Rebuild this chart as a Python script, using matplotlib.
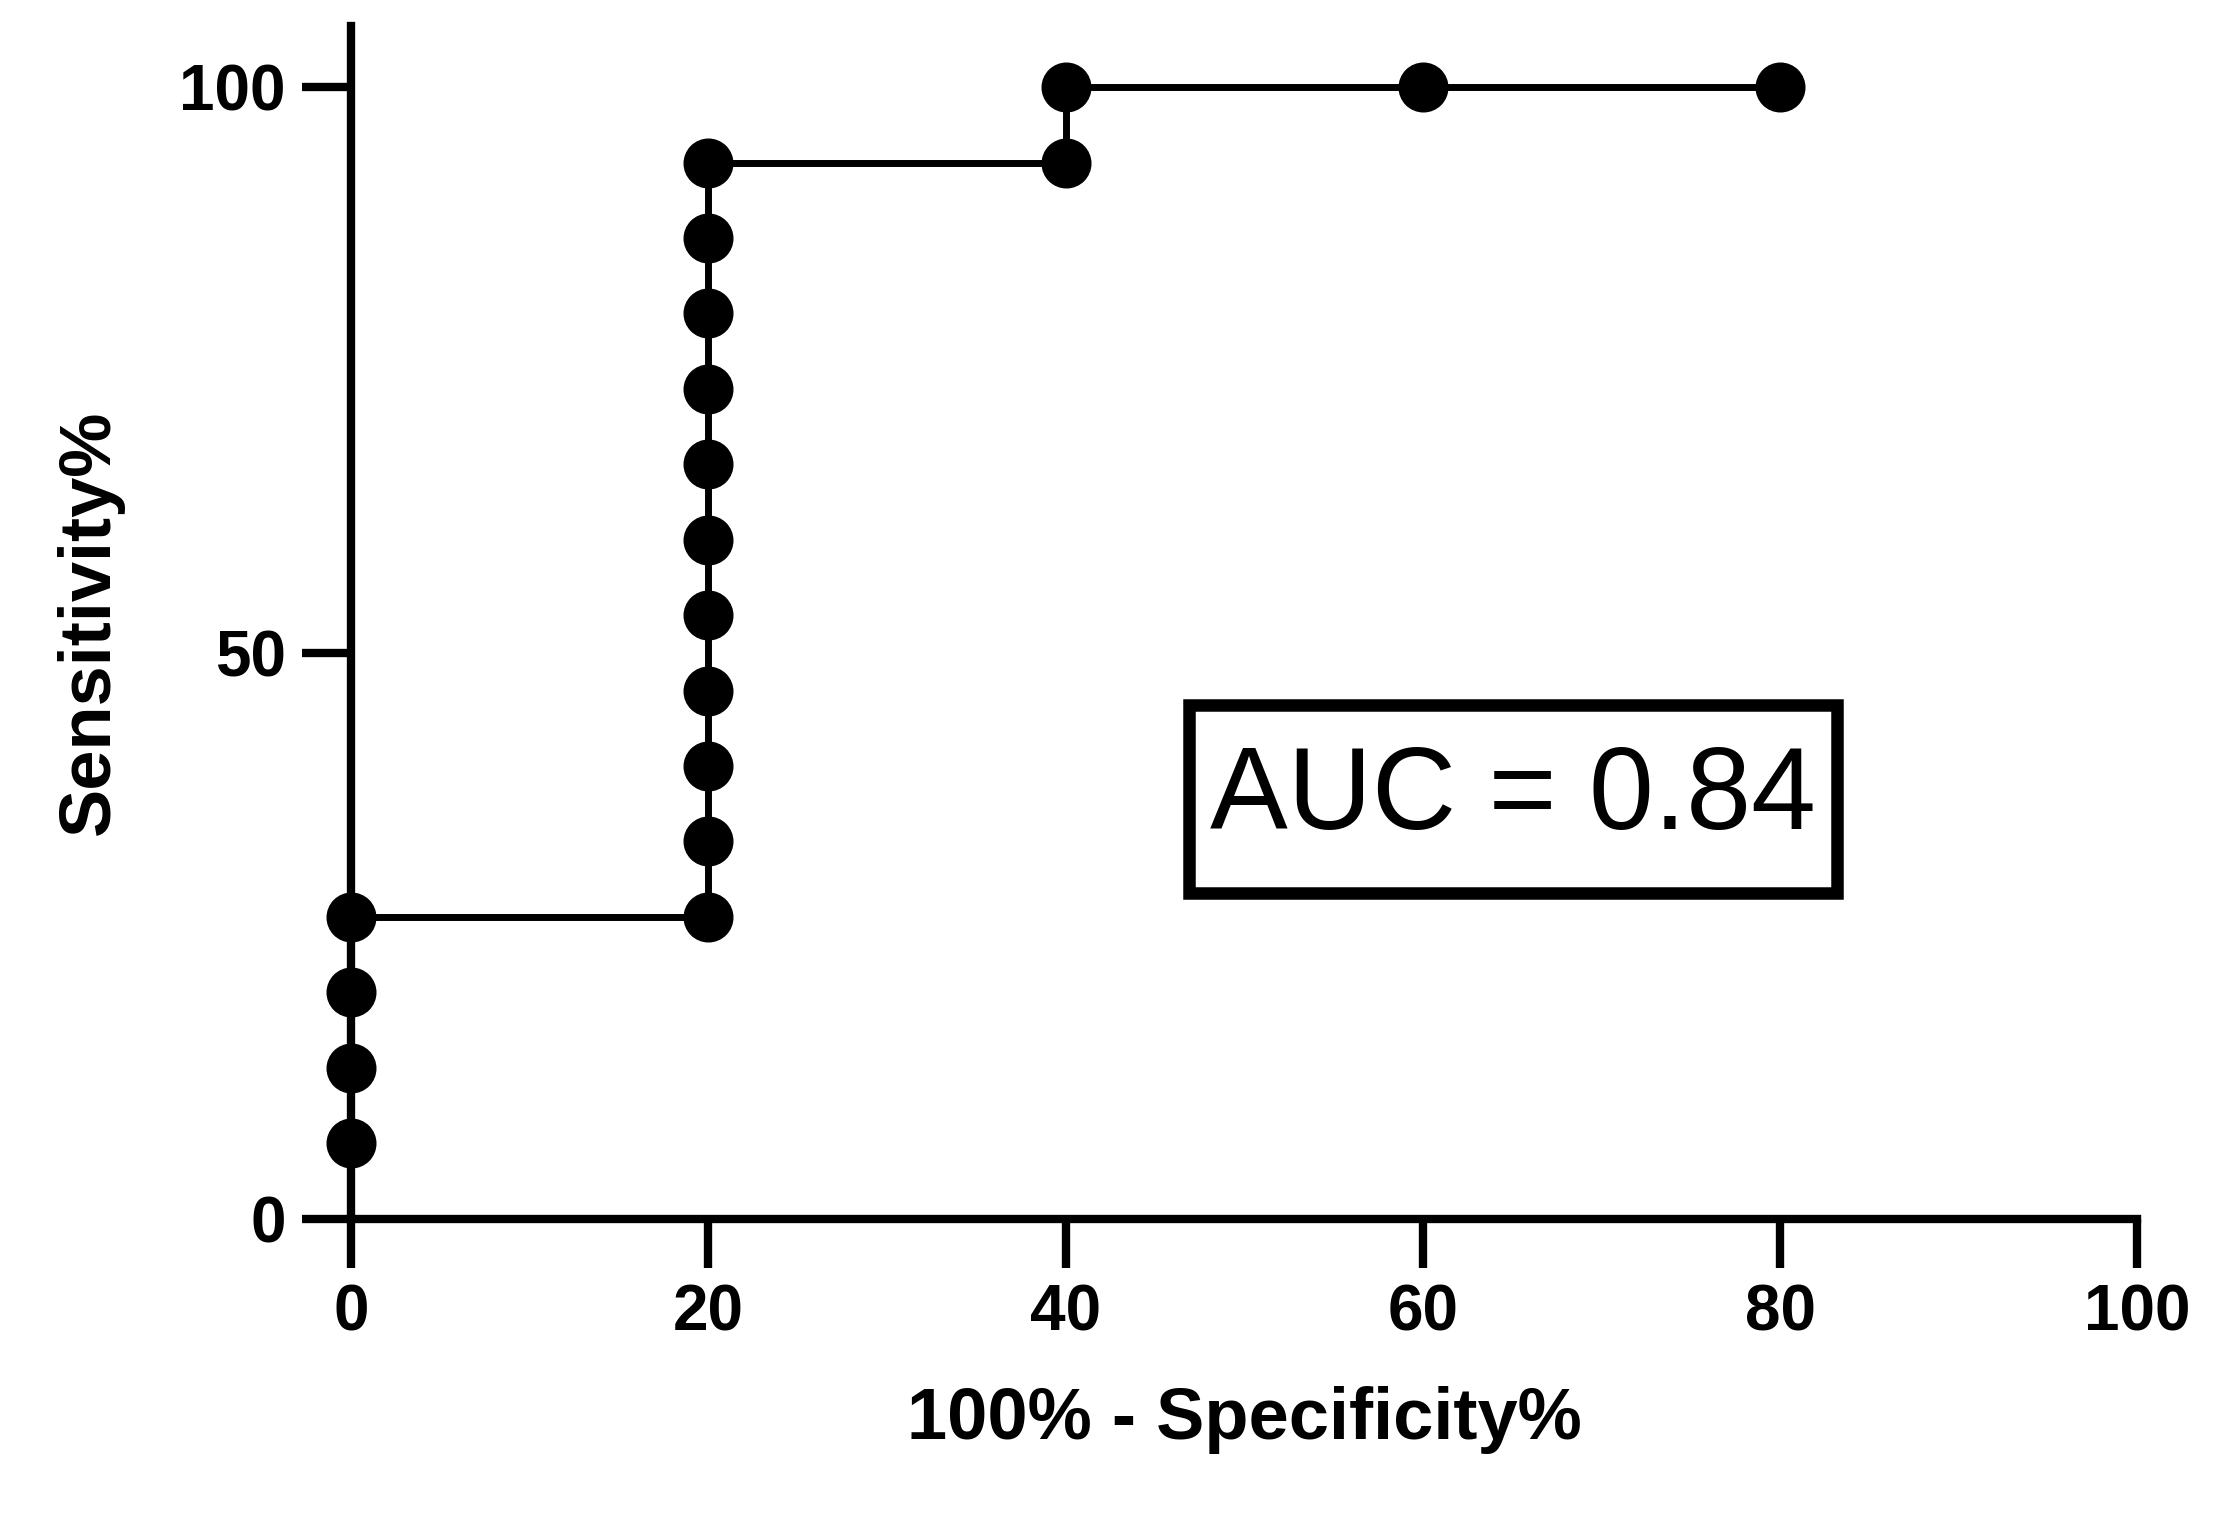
import matplotlib.pyplot as plt
from matplotlib.patches import Rectangle

plt.rcParams["font.family"] = ["Liberation Sans", "DejaVu Sans"]

# ROC curve points (100% - Specificity%, Sensitivity%)
fpr = [0, 0, 0, 0, 20, 20, 20, 20, 20, 20, 20, 20, 20, 20, 20, 40, 40, 60, 80]
tpr = [6.67, 13.33, 20, 26.67, 26.67, 33.33, 40, 46.67, 53.33, 60, 66.67,
       73.33, 80, 86.67, 93.33, 93.33, 100, 100, 100]
auc_text = "AUC = 0.84"

fig = plt.figure(figsize=(22.3, 15.29), dpi=100)
ax = fig.add_axes([0.1575, 0.203, 0.801, 0.78])

ax.plot([0] + fpr, [0] + tpr, color="black", lw=5, zorder=2)
ax.plot(fpr, tpr, "o", color="black", markersize=35, zorder=3, clip_on=False)

ax.set_xlim(0, 100)
ax.set_ylim(0, 105.4)
ax.set_xticks([0, 20, 40, 60, 80, 100])
ax.set_yticks([0, 50, 100])
ax.spines["top"].set_visible(False)
ax.spines["right"].set_visible(False)
for s in ("left", "bottom"):
    ax.spines[s].set_linewidth(6)
ax.tick_params(width=6, length=35, labelsize=46, pad=12)
for lab in ax.get_xticklabels() + ax.get_yticklabels():
    lab.set_fontweight("bold")

ax.set_xlabel("100% - Specificity%", fontsize=52, fontweight="bold", labelpad=30)
ax.set_ylabel("Sensitivity%", fontsize=52, fontweight="bold", labelpad=40)

ax.add_patch(Rectangle((46.9, 28.8), 36.3, 16.6, fill=False, lw=9,
                       edgecolor="black", zorder=4))
ax.text(65.05, 37.1, auc_text, fontsize=84, ha="center", va="center")

fig.savefig("out.png", dpi=100)
